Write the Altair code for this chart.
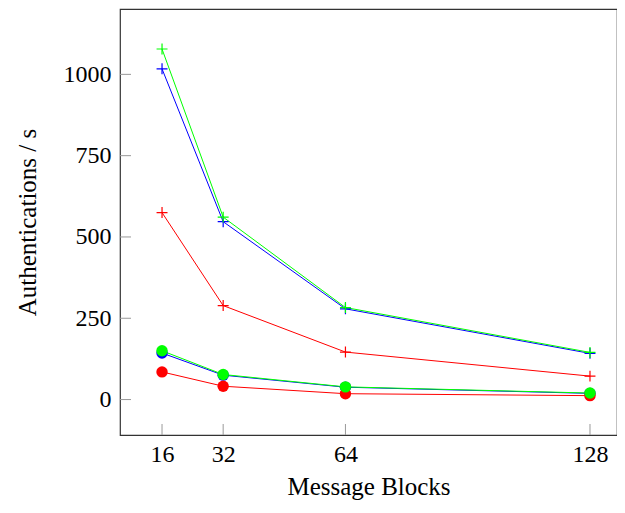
import altair as alt
import pandas as pd

blocks = [16, 32, 64, 128]

# "+" marker series
plus_blue = [1017, 547, 279, 142]
plus_red = [575, 289, 146, 72]
plus_green = [1078, 561, 283, 145]

# filled-circle marker series
circ_blue = [143, 75, 38, 19]
circ_red = [85, 41, 18, 12]
circ_green = [150, 77, 39, 20]

y_ticks = [0, 250, 500, 750, 1000]
x_ticks = [16, 32, 64, 128]

series = [
    ("plus_blue", "plus", "#0000ff", plus_blue),
    ("plus_red", "plus", "#ff0000", plus_red),
    ("plus_green", "plus", "#00ff00", plus_green),
    ("circ_blue", "circ", "#0000ff", circ_blue),
    ("circ_red", "circ", "#ff0000", circ_red),
    ("circ_green", "circ", "#00ff00", circ_green),
]
rows = []
for order, (name, kind, col, vals) in enumerate(series):
    for b, v in zip(blocks, vals):
        rows.append({"series": name, "kind": kind, "color": col, "blocks": b, "value": v, "ord": order})
df = pd.DataFrame(rows)

W, H = 497, 426
FONT = "Liberation Serif"
LFS = 24
TFS = 25

xs = alt.Scale(domain=[5, 135.07], nice=False, zero=False)
ys = alt.Scale(domain=[-109, 1201], nice=False, zero=False)

x_enc = alt.X("blocks:Q", scale=xs,
              axis=alt.Axis(values=x_ticks, format="d", title="Message Blocks", grid=False, ticks=False,
                            domain=False, tickSize=0, labelPadding=7, titlePadding=8,
                            labelFont=FONT, labelFontSize=LFS, titleFont=FONT, titleFontSize=TFS,
                            titleFontWeight="normal", labelColor="black", titleColor="black"))
y_enc = alt.Y("value:Q", scale=ys,
              axis=alt.Axis(values=y_ticks, format="d", title="Authentications / s", grid=False, ticks=False,
                            domain=False, tickSize=0, labelPadding=9, titlePadding=23,
                            labelFont=FONT, labelFontSize=LFS, titleFont=FONT, titleFontSize=TFS,
                            titleFontWeight="normal", labelColor="black", titleColor="black"))

base = alt.Chart(df)

lines = base.mark_line(strokeWidth=1).encode(
    x=x_enc, y=y_enc,
    color=alt.Color("color:N", scale=None),
    detail="series:N",
    order=alt.Order("blocks:Q"),
)

plus = base.transform_filter(alt.datum.kind == "plus").mark_point(
    shape="M-1,0L1,0M0,-1L0,1", filled=False, strokeWidth=1.2, size=120, opacity=1
).encode(x="blocks:Q", y="value:Q", stroke=alt.Color("color:N", scale=None))

circ = base.transform_filter(alt.datum.kind == "circ").mark_circle(size=130, opacity=1).encode(
    x="blocks:Q", y="value:Q", color=alt.Color("color:N", scale=None)
)

ytick_df = pd.DataFrame({"t": y_ticks})
xtick_df = pd.DataFrame({"t": x_ticks})
yt = alt.Chart(ytick_df).mark_rule(color="#999999", strokeWidth=1).encode(
    y="t:Q", x=alt.value(0), x2=alt.value(11))
xt = alt.Chart(xtick_df).mark_rule(color="#999999", strokeWidth=1).encode(
    x="t:Q", y=alt.value(H), y2=alt.value(H - 11))

chart = alt.layer(yt, xt, lines, plus, circ).properties(
    width=W, height=H,
    padding={"left": 112, "top": 1, "right": 0, "bottom": 66},
    autosize=alt.AutoSizeParams(type="none"),
    background="white",
).configure_view(stroke="#333333", strokeWidth=1.2)

chart.save("out.html", embed_options={"renderer": "svg", "actions": False})
